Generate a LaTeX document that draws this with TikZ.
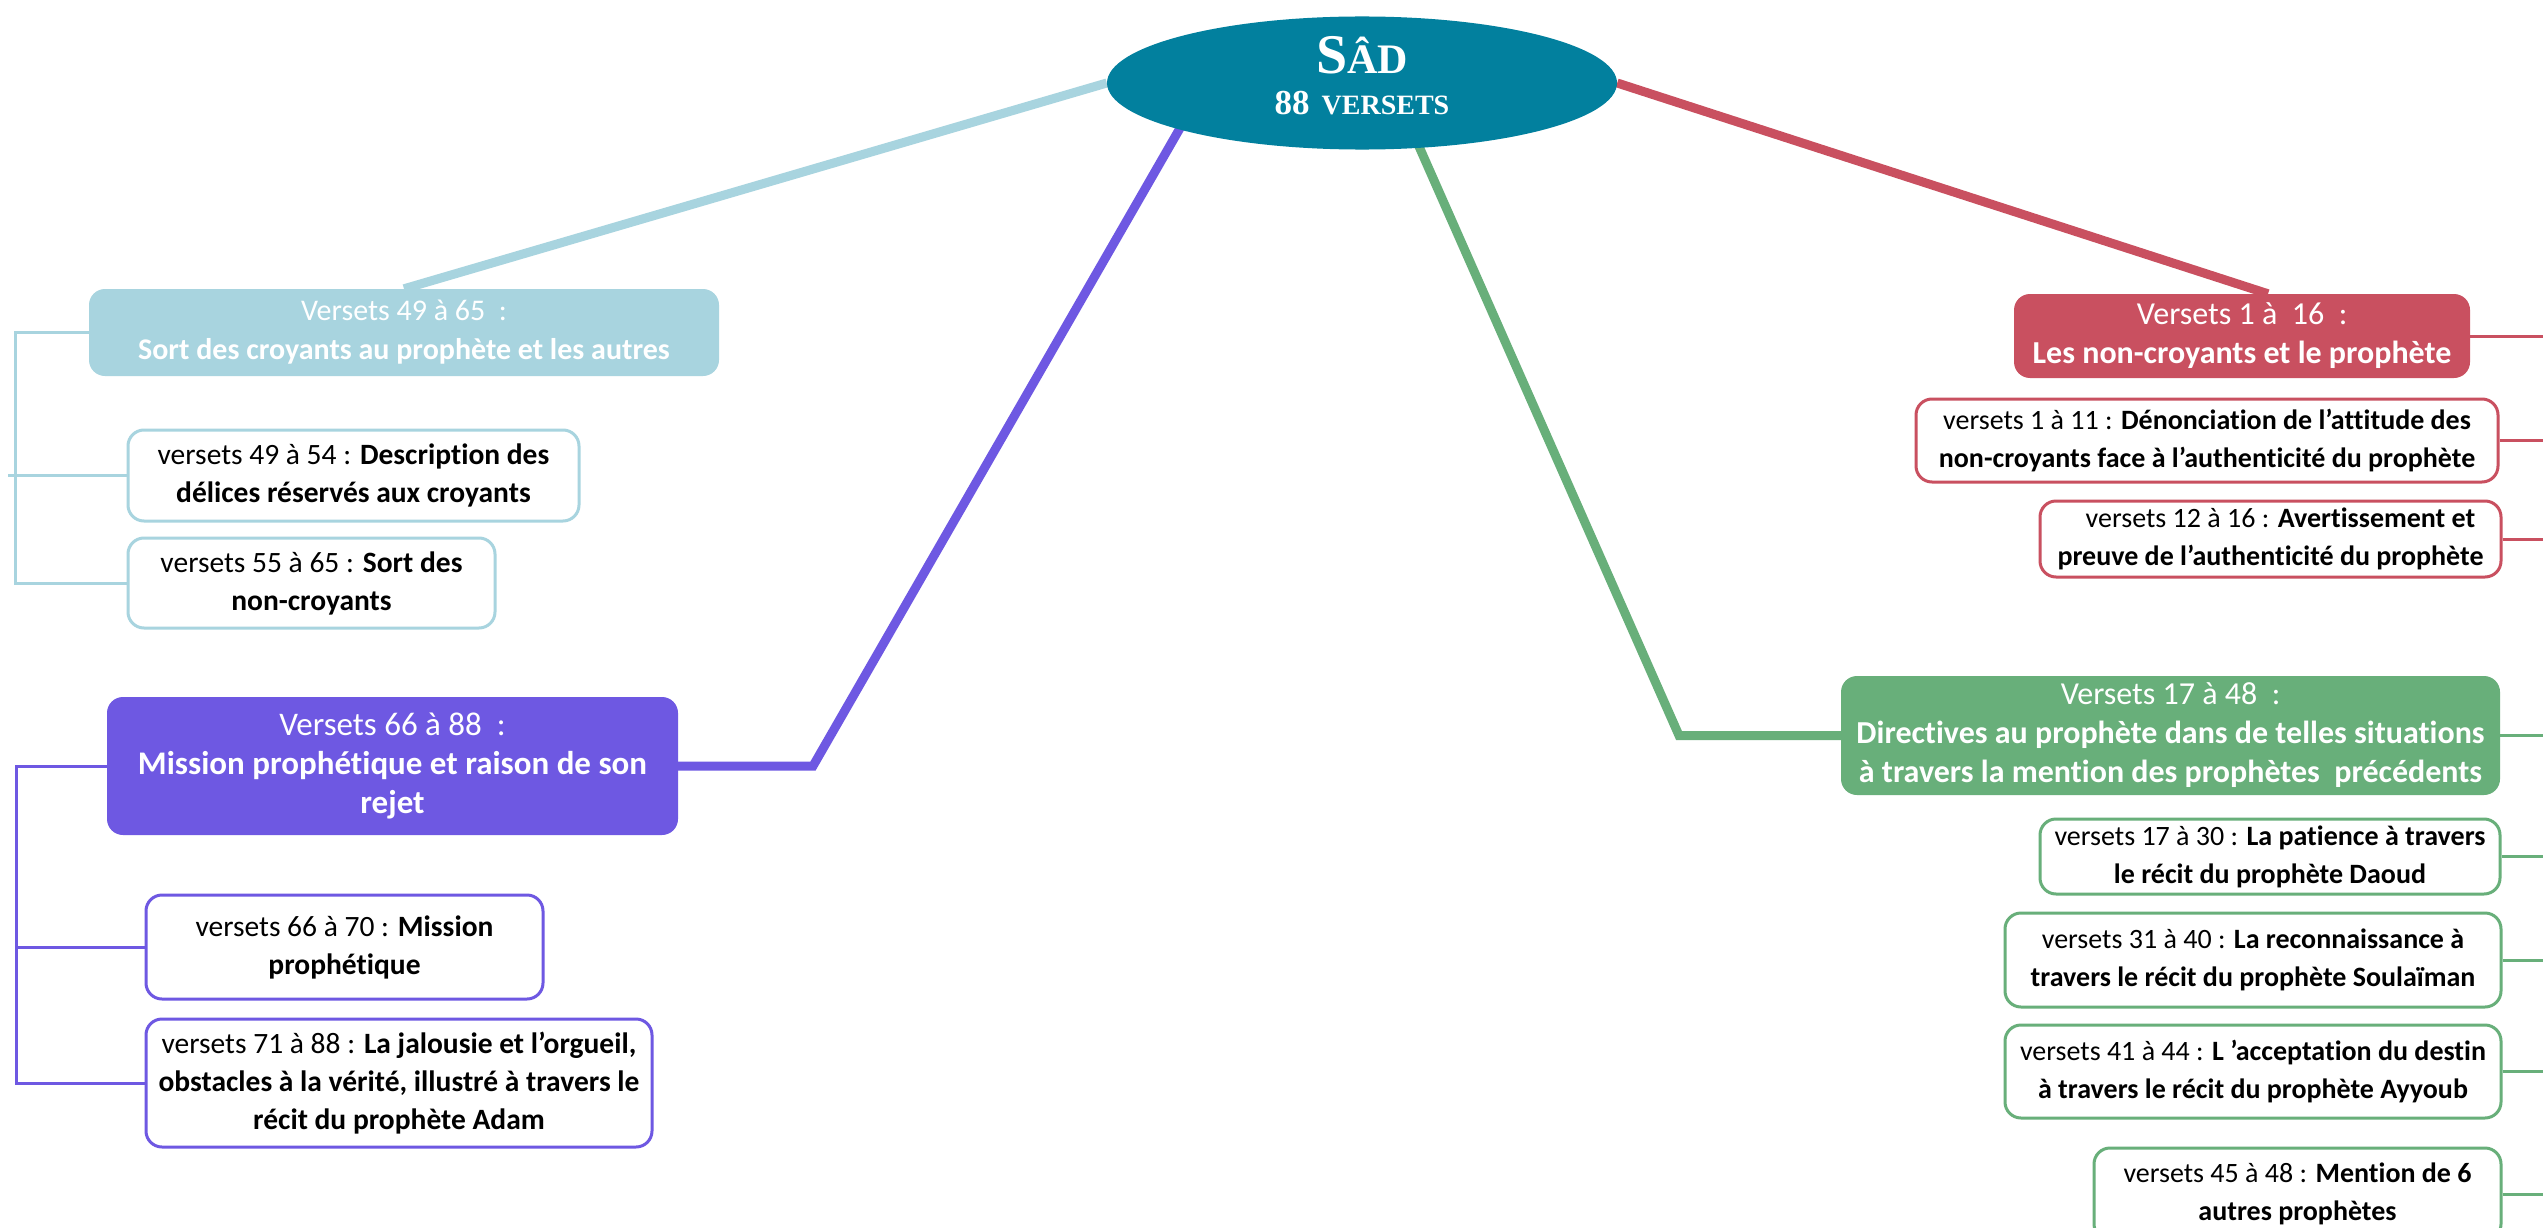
\documentclass[tikz,border=0pt]{standalone}
\usepackage{fontspec}
\setmainfont[Ligatures=NoCommon]{Carlito}
\newfontfamily\titlefont{Liberation Serif}
\usetikzlibrary{shapes.geometric,backgrounds}
\definecolor{teal0}{RGB}{2,128,158}
\definecolor{lblue}{RGB}{168,212,223}
\definecolor{rose}{RGB}{201,80,96}
\definecolor{violet0}{RGB}{110,88,226}
\definecolor{green0}{RGB}{104,175,122}
\begin{document}
\begin{tikzpicture}[x=1pt,y=-1pt,
  hdr/.style={rounded corners=16pt, fill=#1, draw=none, text=white, align=center,
    font=\fontsize{32}{39}\selectfont, inner sep=0pt},
  sub/.style={rounded corners=16pt, fill=white, draw=#1, line width=3pt, align=center,
    font=\fontsize{28}{38}\selectfont, inner sep=0pt},
  leftsize/.style={font=\fontsize{29.5}{38}\selectfont},
  mainlink/.style={line width=9pt, draw=#1},
  sublink/.style={line width=3pt, draw=#1},
]
\useasboundingbox (0,0) rectangle (2543,1228);

% central ellipse
\node[ellipse, fill=teal0, minimum width=510pt, minimum height=126pt, inner sep=0pt,
  text=white, align=center, font=\titlefont\bfseries\fontsize{34}{41}\selectfont] (el) at (1362,83)
  {{\fontsize{56}{41}\selectfont S\fontsize{42}{41}\selectfont ÂD}\\
   {\fontsize{35}{41}\selectfont 88\hspace{12pt}\fontsize{28}{41}\selectfont VERSETS}\rule[-16pt]{0pt}{16pt}};

% light blue branch
\node[hdr=lblue, font=\fontsize{30}{39}\selectfont, minimum width=630pt, minimum height=87pt] (lbh) at (404,332.5)
  {Versets 49 à 65~~:\\\textbf{Sort des croyants au prophète et les autres}};
\node[sub=lblue, leftsize, minimum width=451pt, minimum height=91pt] (lbc1) at (353.5,475.5)
  {versets 49 à 54 : \textbf{Description des}\\\textbf{délices réservés aux croyants}};
\node[sub=lblue, leftsize, minimum width=367pt, minimum height=90pt] (lbc2) at (311.5,583)
  {versets 55 à 65 : \textbf{Sort des}\\\textbf{non-croyants}};

% purple branch
\node[hdr=violet0, font=\fontsize{33}{39}\selectfont, minimum width=571pt, minimum height=138pt] (pvh) at (392.5,766)
  {Versets 66 à 88~~:\\\textbf{Mission prophétique et raison de son}\\\textbf{rejet}};
\node[sub=violet0, leftsize, minimum width=397pt, minimum height=104pt] (pvc1) at (344.5,947)
  {versets 66 à 70 : \textbf{Mission}\\\textbf{prophétique}};
\node[sub=violet0, leftsize, minimum width=506pt, minimum height=128pt] (pvc2) at (399,1083)
  {versets 71 à 88 : \textbf{La jalousie et l’orgueil,}\\\textbf{obstacles à la vérité, illustré à travers le}\\\textbf{récit du prophète Adam}};

% red branch
\node[hdr=rose, minimum width=456pt, minimum height=84pt] (rh) at (2242,336)
  {Versets 1 à~~16~~:\\\textbf{Les non-croyants et le prophète}};
\node[sub=rose, minimum width=582pt, minimum height=83pt] (rc1) at (2207,440.5)
  {versets 1 à 11 : \textbf{Dénonciation de l’attitude des}\\\textbf{non-croyants face à l’authenticité du prophète}};
\node[sub=rose, minimum width=461pt, minimum height=76pt] (rc2) at (2270.5,539)
  {\hspace{20pt}versets 12 à 16 : \textbf{Avertissement et}\\\textbf{preuve de l’authenticité du prophète}};

% green branch
\node[hdr=green0, minimum width=659pt, minimum height=119pt] (gh) at (2170.5,735.5)
  {Versets 17 à 48~~:\\\textbf{Directives au prophète dans de telles situations}\\\textbf{à travers la mention des prophètes~~précédents}};
\node[sub=green0, minimum width=460pt, minimum height=75pt] (gc1) at (2270,856.5)
  {versets 17 à 30 : \textbf{La patience à travers}\\\textbf{le récit du prophète Daoud}};
\node[sub=green0, minimum width=496pt, minimum height=94pt] (gc2) at (2253,960)
  {versets 31 à 40 : \textbf{La reconnaissance à}\\\textbf{travers le récit du prophète Soulaïman}};
\node[sub=green0, minimum width=496pt, minimum height=93pt] (gc3) at (2253,1071.5)
  {versets 41 à 44 : \textbf{L ’acceptation du destin}\\\textbf{à travers le récit du prophète Ayyoub}};
\node[sub=green0, minimum width=407pt, minimum height=92pt] (gc4) at (2297.5,1194)
  {versets 45 à 48 : \textbf{Mention de 6}\\\textbf{autres prophètes}};

% helper coordinates
\coordinate (lbx) at (15,0);
\coordinate (pvx) at (16,0);
\coordinate (redge) at (2543,0);
\coordinate (pvbend) at (813,766);
\coordinate (gbend) at (1679,735.5);

\begin{pgfonlayer}{background}
  \fill[white] (0,0) rectangle (2543,1228);
  % main connectors
  \draw[mainlink=lblue] (el.west) -- (lbh.north);
  \draw[mainlink=violet0] ([xshift=-156pt]el.center) -- (pvbend) -- (pvh.east);
  \draw[mainlink=green0] ([xshift=29pt]el.center) -- (gbend) -- (gh.west);
  \draw[mainlink=rose] (el.east) -- ([xshift=26pt]rh.north);
  % left brackets
  \draw[sublink=lblue] (lbh.west) -| (lbx |- lbc2.west) -- (lbc2.west);
  \draw[sublink=lblue] ([xshift=-7pt]lbx |- lbc1.west) -- (lbc1.west);
  \draw[sublink=violet0] (pvh.west) -| (pvx |- pvc2.west) -- (pvc2.west);
  \draw[sublink=violet0] (pvx |- pvc1.west) -- (pvc1.west);
  % right side lines
  \draw[sublink=rose] (rh.east) -- (redge |- rh.east);
  \draw[sublink=rose] (rc1.east) -- (redge |- rc1.east);
  \draw[sublink=rose] (rc2.east) -- (redge |- rc2.east);
  \draw[sublink=green0] (gh.east) -- (redge |- gh.east);
  \draw[sublink=green0] (gc1.east) -- (redge |- gc1.east);
  \draw[sublink=green0] (gc2.east) -- (redge |- gc2.east);
  \draw[sublink=green0] (gc3.east) -- (redge |- gc3.east);
  \draw[sublink=green0] (gc4.east) -- (redge |- gc4.east);
\end{pgfonlayer}
\end{tikzpicture}
\end{document}
